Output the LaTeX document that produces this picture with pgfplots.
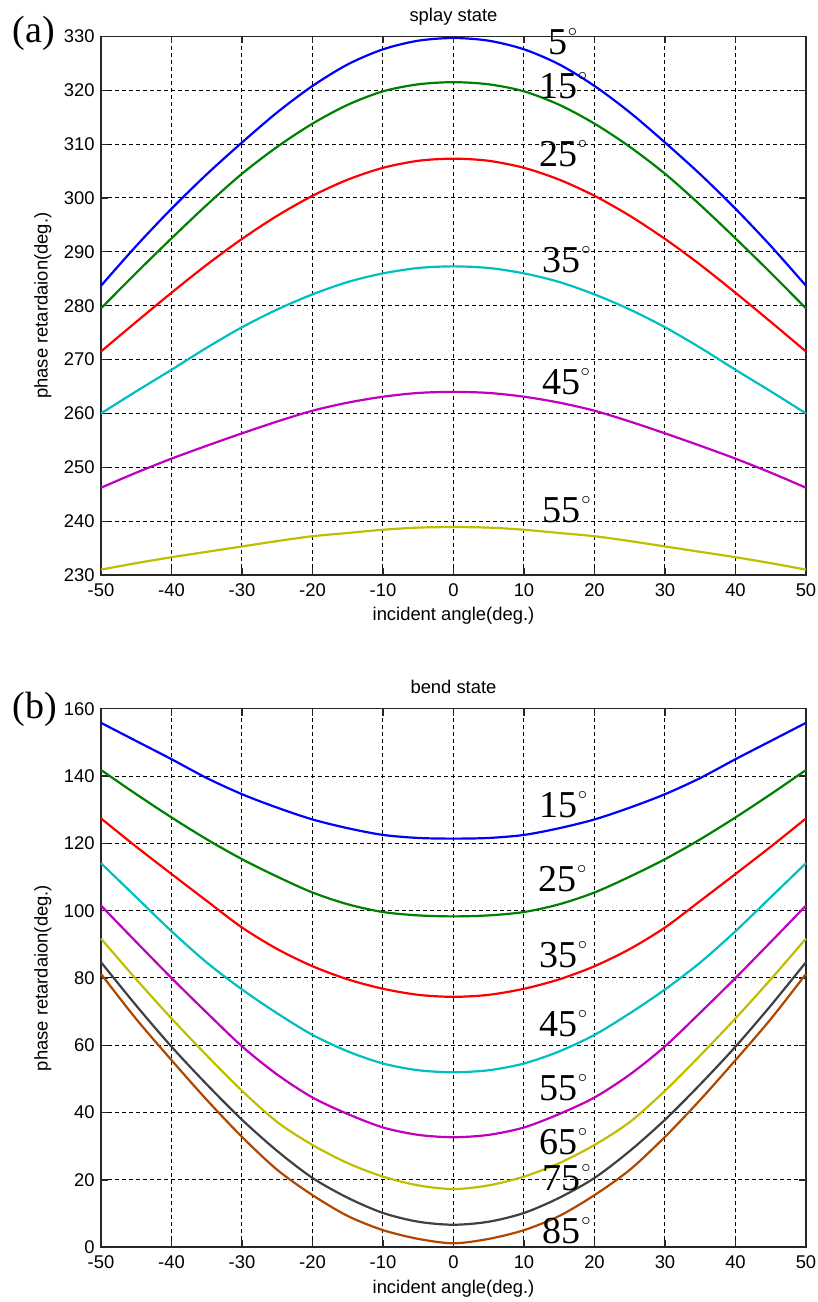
\documentclass[border=0pt]{standalone}
\usepackage{fontspec}
\setmainfont{Liberation Sans}
\newfontfamily\tnr{Liberation Serif}
\usepackage{pgfplots}
\pgfplotsset{compat=1.18}
\definecolor{mblue}{rgb}{0,0,1}
\definecolor{mgreen}{rgb}{0,0.5,0}
\definecolor{mred}{rgb}{1,0,0}
\definecolor{mcyan}{rgb}{0,0.75,0.75}
\definecolor{mmag}{rgb}{0.75,0,0.75}
\definecolor{myel}{rgb}{0.75,0.75,0}
\definecolor{mgray}{rgb}{0.25,0.25,0.25}
\definecolor{mbrown}{rgb}{0.69,0.28,0.0}
\newcommand{\deglab}[1]{{\tnr\fontsize{19}{22}\selectfont #1\kern0.3pt\raisebox{9pt}{\fontsize{9.5}{9.5}\selectfont$\circ$}}}
\pgfplotsset{mystyle/.style={
  scale only axis, width=352.5pt, height=269.3pt,
  xmin=-50, xmax=50, xtick={-50,-40,...,50},
  grid=major,
  major grid style={black, line width=0.5pt, dash pattern=on 2pt off 1.5pt},
  axis line style={black!85, line width=0.8pt},
  tick align=inside, major tick length=3.5pt,
  tick style={black!85, line width=0.6pt},
  /pgf/number format/assume math mode=true,
  tick label style={font=\fontsize{9.2}{11}\selectfont, black},
  label style={font=\fontsize{9.2}{11}\selectfont},
  every axis title shift=0pt,
  title style={font=\fontsize{9.2}{11}\selectfont, at={(axis description cs:0.5,1)}, anchor=base, yshift=7.5pt},
  xticklabel style={anchor=north, inner sep=0pt, yshift=-4pt},
  yticklabel style={anchor=east, inner sep=0pt, xshift=-3pt},
  xlabel style={at={(axis description cs:0.5,0)}, anchor=base, yshift=-23pt},
  ylabel style={at={(axis description cs:-0.0823,0.5)}, anchor=center},
  clip=false,
  every axis plot/.append style={line width=1.1pt, no markers, smooth},
}}
\begin{document}
\begin{tikzpicture}
\useasboundingbox (-50.5pt,-27.35pt) rectangle (358.5pt,623.65pt);
% ---------------- (a) splay state
\begin{axis}[mystyle, at={(0pt,336.15pt)}, anchor=south west,
  ymin=230, ymax=330, ytick={230,240,...,330},
  title={splay state}, xlabel={incident angle(deg.)}, ylabel={phase retardaion(deg.)}]
\addplot[mblue] coordinates {(-50,283.7)(-45,291.1)(-40,298.0)(-35,304.4)(-30,310.3)(-25,315.9)(-20,320.8)(-15,324.8)(-10,327.6)(-5,329.2)(0,329.7)(5,329.2)(10,327.6)(15,324.8)(20,320.8)(25,315.9)(30,310.3)(35,304.4)(40,298.0)(45,291.1)(50,283.7)};
\addplot[mgreen] coordinates {(-50,279.5)(-45,286.1)(-40,292.5)(-35,298.7)(-30,304.5)(-25,309.5)(-20,313.8)(-15,317.3)(-10,319.8)(-5,321.1)(0,321.5)(5,321.1)(10,319.8)(15,317.3)(20,313.8)(25,309.5)(30,304.5)(35,298.7)(40,292.5)(45,286.1)(50,279.5)};
\addplot[mred] coordinates {(-50,271.5)(-45,277.0)(-40,282.4)(-35,287.6)(-30,292.4)(-25,296.7)(-20,300.4)(-15,303.4)(-10,305.6)(-5,306.9)(0,307.3)(5,306.9)(10,305.6)(15,303.4)(20,300.4)(25,296.7)(30,292.4)(35,287.6)(40,282.4)(45,277.0)(50,271.5)};
\addplot[mcyan] coordinates {(-50,260.0)(-45,264.1)(-40,268.1)(-35,272.2)(-30,276.0)(-25,279.3)(-20,282.1)(-15,284.4)(-10,286.0)(-5,287.0)(0,287.3)(5,287.0)(10,286.0)(15,284.4)(20,282.1)(25,279.3)(30,276.0)(35,272.2)(40,268.1)(45,264.1)(50,260.0)};
\addplot[mmag] coordinates {(-50,246.2)(-45,249.0)(-40,251.6)(-35,254.0)(-30,256.3)(-25,258.5)(-20,260.5)(-15,262.0)(-10,263.1)(-5,263.8)(0,264.0)(5,263.8)(10,263.1)(15,262.0)(20,260.5)(25,258.5)(30,256.3)(35,254.0)(40,251.6)(45,249.0)(50,246.2)};
\addplot[myel] coordinates {(-50,231.0)(-45,232.2)(-40,233.3)(-35,234.3)(-30,235.3)(-25,236.3)(-20,237.2)(-15,237.8)(-10,238.4)(-5,238.8)(0,238.9)(5,238.8)(10,238.4)(15,237.8)(20,237.2)(25,236.3)(30,235.3)(35,234.3)(40,233.3)(45,232.2)(50,231.0)};
\node[anchor=base west, inner sep=0pt] at (axis cs:13.4,326.6) {\deglab{5}};
\node[anchor=base west, inner sep=0pt] at (axis cs:12.1,318.4) {\deglab{15}};
\node[anchor=base west, inner sep=0pt] at (axis cs:12.1,305.8) {\deglab{25}};
\node[anchor=base west, inner sep=0pt] at (axis cs:12.6,286.2) {\deglab{35}};
\node[anchor=base west, inner sep=0pt] at (axis cs:12.5,263.5) {\deglab{45}};
\node[anchor=base west, inner sep=0pt] at (axis cs:12.6,239.8) {\deglab{55}};
\node[anchor=base west, inner sep=0pt] at (axis cs:-62.6,328.8) {\tnr\fontsize{19}{22}\selectfont (a)};
\end{axis}
% ---------------- (b) bend state
\begin{axis}[mystyle, at={(0pt,0pt)}, anchor=south west,
  ymin=0, ymax=160, ytick={0,20,...,160},
  title={bend state}, xlabel={incident angle(deg.)}, ylabel={phase retardaion(deg.)}]
\addplot[mblue] coordinates {(-50,155.8)(-45,150.4)(-40,145.0)(-35,139.4)(-30,134.6)(-25,130.6)(-20,127.1)(-15,124.5)(-10,122.5)(-5,121.6)(0,121.4)(5,121.6)(10,122.5)(15,124.5)(20,127.1)(25,130.6)(30,134.6)(35,139.4)(40,145.0)(45,150.4)(50,155.8)};
\addplot[mgreen] coordinates {(-50,141.8)(-45,134.6)(-40,127.7)(-35,121.2)(-30,115.3)(-25,110.1)(-20,105.4)(-15,101.9)(-10,99.6)(-5,98.6)(0,98.3)(5,98.6)(10,99.6)(15,101.9)(20,105.4)(25,110.1)(30,115.3)(35,121.2)(40,127.7)(45,134.6)(50,141.8)};
\addplot[mred] coordinates {(-50,127.4)(-45,119.0)(-40,110.9)(-35,102.9)(-30,95.0)(-25,88.6)(-20,83.5)(-15,79.6)(-10,76.8)(-5,75.0)(0,74.4)(5,75.0)(10,76.8)(15,79.6)(20,83.5)(25,88.6)(30,95.0)(35,102.9)(40,110.9)(45,119.0)(50,127.4)};
\addplot[mcyan] coordinates {(-50,114.1)(-45,104.0)(-40,93.9)(-35,84.6)(-30,76.6)(-25,69.5)(-20,63.1)(-15,58.2)(-10,54.6)(-5,52.6)(0,52.0)(5,52.6)(10,54.6)(15,58.2)(20,63.1)(25,69.5)(30,76.6)(35,84.6)(40,93.9)(45,104.0)(50,114.1)};
\addplot[mmag] coordinates {(-50,101.5)(-45,90.7)(-40,80.0)(-35,69.7)(-30,59.7)(-25,51.3)(-20,44.5)(-15,39.6)(-10,35.6)(-5,33.4)(0,32.7)(5,33.4)(10,35.6)(15,39.6)(20,44.5)(25,51.3)(30,59.7)(35,69.7)(40,80.0)(45,90.7)(50,101.5)};
\addplot[myel] coordinates {(-50,91.7)(-45,79.6)(-40,68.0)(-35,57.0)(-30,46.5)(-25,37.2)(-20,30.4)(-15,25.0)(-10,21.0)(-5,18.4)(0,17.3)(5,18.4)(10,21.0)(15,25.0)(20,30.4)(25,37.2)(30,46.5)(35,57.0)(40,68.0)(45,79.6)(50,91.7)};
\addplot[mgray] coordinates {(-50,84.7)(-45,71.8)(-40,59.6)(-35,48.4)(-30,37.9)(-25,28.6)(-20,20.6)(-15,14.7)(-10,10.2)(-5,7.6)(0,6.7)(5,7.6)(10,10.2)(15,14.7)(20,20.6)(25,28.6)(30,37.9)(35,48.4)(40,59.6)(45,71.8)(50,84.7)};
\addplot[mbrown] coordinates {(-50,81.2)(-45,67.8)(-40,55.6)(-35,43.8)(-30,32.8)(-25,23.0)(-20,15.5)(-15,9.3)(-10,5.1)(-5,2.5)(0,1.2)(5,2.5)(10,5.1)(15,9.3)(20,15.5)(25,23.0)(30,32.8)(35,43.8)(40,55.6)(45,67.8)(50,81.2)};
\node[anchor=base west, inner sep=0pt] at (axis cs:12.1,127.6) {\deglab{15}};
\node[anchor=base west, inner sep=0pt] at (axis cs:12.0,105.6) {\deglab{25}};
\node[anchor=base west, inner sep=0pt] at (axis cs:12.1,83.0) {\deglab{35}};
\node[anchor=base west, inner sep=0pt] at (axis cs:12.1,62.5) {\deglab{45}};
\node[anchor=base west, inner sep=0pt] at (axis cs:12.1,43.7) {\deglab{55}};
\node[anchor=base west, inner sep=0pt] at (axis cs:12.1,27.7) {\deglab{65}};
\node[anchor=base west, inner sep=0pt] at (axis cs:12.6,17.0) {\deglab{75}};
\node[anchor=base west, inner sep=0pt] at (axis cs:12.6,1.2) {\deglab{85}};
\node[anchor=base west, inner sep=0pt] at (axis cs:-62.6,157.2) {\tnr\fontsize{19}{22}\selectfont (b)};
\end{axis}
\end{tikzpicture}
\end{document}
